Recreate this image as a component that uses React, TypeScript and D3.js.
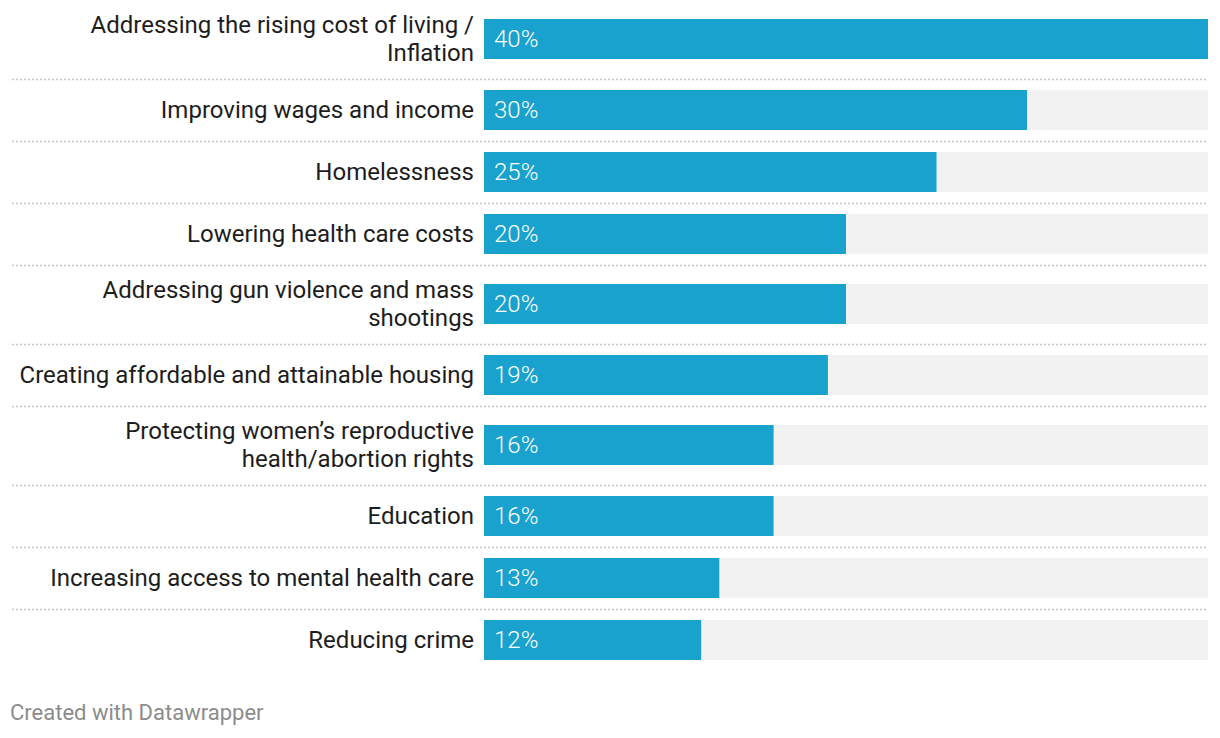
import React from "react";
import * as d3 from "d3";

const categories: string[][] = [
  ["Addressing the rising cost of living /", "Inflation"],
  ["Improving wages and income"],
  ["Homelessness"],
  ["Lowering health care costs"],
  ["Addressing gun violence and mass", "shootings"],
  ["Creating affordable and attainable housing"],
  ["Protecting women\u2019s reproductive", "health/abortion rights"],
  ["Education"],
  ["Increasing access to mental health care"],
  ["Reducing crime"],
];
const values: number[] = [40, 30, 25, 20, 20, 19, 16, 16, 13, 12];
const xDomainMax = 40;

const W = 1220;
const H = 738;
const barLeft = 484;
const barRight = 1208;
const barH = 40;
const font = "Roboto, 'Noto Sans', sans-serif";

export default function App() {
  const x = d3.scaleLinear().domain([0, xDomainMax]).range([barLeft, barRight]);
  const rowHeights = categories.map((c) => (c.length > 1 ? 79 : 62));
  const rowTops: number[] = [];
  let acc = 0;
  rowHeights.forEach((h) => {
    rowTops.push(acc);
    acc += h;
  });
  const barOffset = (i: number) => (categories[i].length > 1 ? 19 : 11);

  return (
    <svg
      width={W}
      height={H}
      style={{ position: "absolute", left: 0, top: 0, background: "#fff" }}
    >
      {categories.map((lines, i) => {
        const top = rowTops[i];
        const by = top + barOffset(i);
        const cy = by + barH / 2;
        const n = lines.length;
        return (
          <g key={i}>
            <rect x={x(0)} y={by} width={x(xDomainMax) - x(0)} height={barH} fill="#f2f2f2" />
            <rect x={x(0)} y={by} width={x(values[i]) - x(0)} height={barH} fill="#18a2cd" />
            <text
              x={x(0) + 10}
              y={cy}
              dy="0.35em"
              fill="#fff"
              fontFamily={font}
              fontSize={24}
              fontWeight={300}
            >
              {values[i]}%
            </text>
            <text textAnchor="end" fill="#1d1d1d" fontFamily={font} fontSize={24}>
              {lines.map((l, j) => (
                <tspan key={j} x={474} y={cy + (j - (n - 1) / 2) * 28} dy="0.35em">
                  {l}
                </tspan>
              ))}
            </text>
            {i < categories.length - 1 && (
              <line
                x1={12}
                x2={barRight}
                y1={top + rowHeights[i] + 0.5}
                y2={top + rowHeights[i] + 0.5}
                stroke="#c8c8c8"
                strokeWidth={1.5}
                strokeDasharray="2,2"
              />
            )}
          </g>
        );
      })}
      <text x={10} y={720} fill="#8c8c8c" fontFamily={font} fontSize={22}>
        Created with Datawrapper
      </text>
    </svg>
  );
}
